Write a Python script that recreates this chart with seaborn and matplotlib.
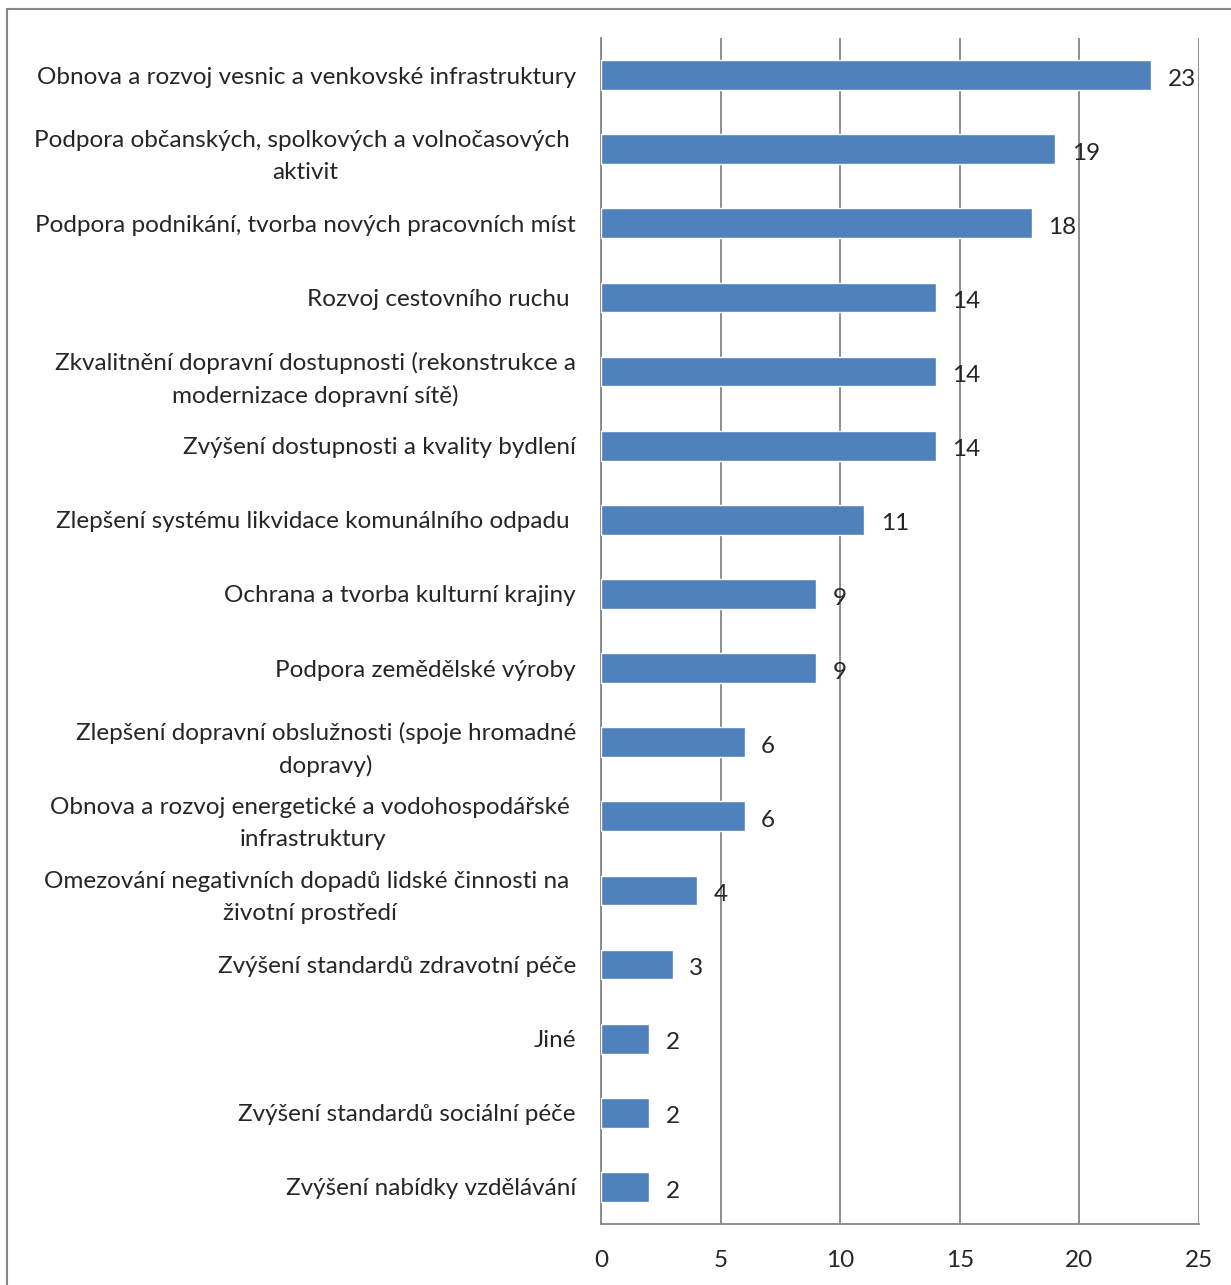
import matplotlib
matplotlib.use("Agg")
import matplotlib.pyplot as plt
import seaborn as sns
import pandas as pd
from matplotlib.patches import Rectangle

categories = [
    "Obnova a rozvoj vesnic a venkovské infrastruktury",
    "Podpora občanských, spolkových a volnočasových \naktivit",
    "Podpora podnikání, tvorba nových pracovních míst",
    "Rozvoj cestovního ruchu ",
    "Zkvalitnění dopravní dostupnosti (rekonstrukce a\nmodernizace dopravní sítě)",
    "Zvýšení dostupnosti a kvality bydlení",
    "Zlepšení systému likvidace komunálního odpadu ",
    "Ochrana a tvorba kulturní krajiny",
    "Podpora zemědělské výroby",
    "Zlepšení dopravní obslužnosti (spoje hromadné\ndopravy)",
    "Obnova a rozvoj energetické a vodohospodářské \ninfrastruktury",
    "Omezování negativních dopadů lidské činnosti na \nživotní prostředí",
    "Zvýšení standardů zdravotní péče",
    "Jiné",
    "Zvýšení standardů sociální péče",
    "Zvýšení nabídky vzdělávání",
]
values = [23, 19, 18, 14, 14, 14, 11, 9, 9, 6, 6, 4, 3, 2, 2, 2]
x_ticks = [0, 5, 10, 15, 20, 25]

sns.set_theme(style="white")
plt.rcParams['font.family'] = ['Lato', 'DejaVu Sans']

FS = 17.5
df = pd.DataFrame({"kategorie": categories, "pocet": values})

fig = plt.figure(figsize=(12.31, 12.85), dpi=100)
ax = fig.add_axes([601/1231, 1 - 1224/1285, (1199-601)/1231, (1224-38)/1285])

sns.barplot(data=df, x="pocet", y="kategorie", orient="h", color="#4F81BD",
            width=0.4, saturation=1, ax=ax, zorder=3)

grid_c = "#868686"
ax.set_xlim(0, 25)
ax.set_ylim(len(categories) - 0.5, -0.5)
ax.set_xticks(x_ticks)
ax.set_xticklabels([str(t) for t in x_ticks], fontsize=FS)
ax.xaxis.grid(True, color=grid_c, linewidth=1.3, zorder=0)
ax.yaxis.grid(False)
ax.set_xlabel("")
ax.set_ylabel("")

for s in ["top", "right"]:
    ax.spines[s].set_visible(False)
for s in ["left", "bottom"]:
    ax.spines[s].set_color(grid_c)
    ax.spines[s].set_linewidth(1.3)

# category labels
ax.set_yticks(range(len(categories)))
ax.set_yticklabels(categories, fontsize=FS, ha="right", multialignment="center",
                   linespacing=1.62)
ax.tick_params(axis="y", length=0, pad=18)
# boundary tick marks on y axis
ax.set_yticks([i - 0.5 for i in range(len(categories) + 1)], minor=True)
ax.tick_params(axis="y", which="minor", length=6, width=1.3, color=grid_c, direction="out")
ax.tick_params(axis="x", length=6, width=1.3, color=grid_c, direction="out", pad=13)

for c in ax.containers:
    texts = ax.bar_label(c, labels=[str(v) for v in values], padding=12, fontsize=FS)
    for t in texts:
        t.set_va("center")
        x0, y0 = t.xyann
        t.xyann = (x0, y0 - 3)

# outer chart frame
fig.patches.append(Rectangle((7/1231, -0.1), 1.2, 1 - 9/1285 + 0.1, transform=fig.transFigure,
                             fill=False, edgecolor=grid_c, linewidth=1.5))

fig.savefig("out.png", dpi=100)
